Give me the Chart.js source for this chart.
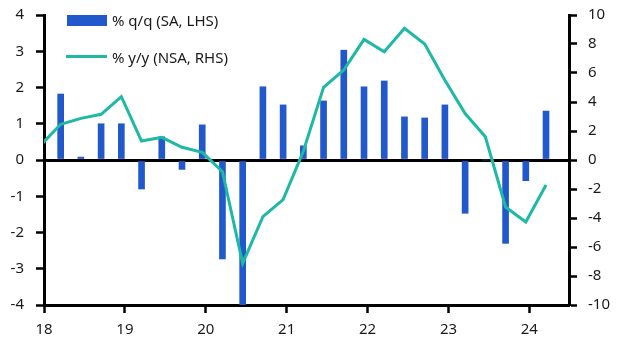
<!DOCTYPE html>
<html>
<head>
<meta charset="utf-8">
<script src="https://cdn.jsdelivr.net/npm/chart.js@4.4.1/dist/chart.umd.min.js"></script>
<style>
  html, body { margin: 0; padding: 0; background: #fff; }
  #wrap { position: relative; width: 626px; height: 352px; }
  #wrap canvas { position: absolute; left: 0; top: 0; }
  .leg-text { position: absolute; left: 112px; font: 15px "Noto Sans", sans-serif; color: #1a1a1a; line-height: 20px; white-space: nowrap; }
  .leg-swatch { position: absolute; }
</style>
</head>
<body>
<div id="wrap">
  <canvas id="chart" width="626" height="352"></canvas>
  <div class="leg-swatch" style="left:67px; top:15px; width:40px; height:11px; background:#2159cc;"></div>
  <div class="leg-text" style="top:10px;">% q/q (SA, LHS)</div>
  <div class="leg-swatch" style="left:66px; top:55px; width:41px; height:3px; background:#1db9a5;"></div>
  <div class="leg-text" style="top:47px;">% y/y (NSA, RHS)</div>
</div>
<script>
// quarters, 2017 Q4 is only there so the y/y line enters from the left edge
const quarterLabels = [
  '2017 Q4',
  '2018 Q1', '2018 Q2', '2018 Q3', '2018 Q4',
  '2019 Q1', '2019 Q2', '2019 Q3', '2019 Q4',
  '2020 Q1', '2020 Q2', '2020 Q3', '2020 Q4',
  '2021 Q1', '2021 Q2', '2021 Q3', '2021 Q4',
  '2022 Q1', '2022 Q2', '2022 Q3', '2022 Q4',
  '2023 Q1', '2023 Q2', '2023 Q3', '2023 Q4',
  '2024 Q1'
];

// % q/q (SA, LHS), 2018 Q1 onwards
const qoqValues = [
  1.82, 0.08, 1.0, 1.0,
  -0.8, 0.64, -0.26, 0.97,
  -2.73, -4.0, 2.02, 1.52,
  0.39, 1.63, 3.03, 2.02,
  2.18, 1.19, 1.16, 1.52,
  -1.47, 0.0, -2.3, -0.57,
  1.35
];

// % y/y (NSA, RHS), 2017 Q4 onwards
const yoyValues = [
  1.0,
  2.46, 2.87, 3.15, 4.37,
  1.31, 1.56, 0.88, 0.53,
  -0.81, -7.13, -3.91, -2.73,
  0.6, 5.01, 6.21, 8.32,
  7.47, 9.08, 8.0, 5.5,
  3.2, 1.6, -3.24, -4.27,
  -1.72
];

const yearTicks = [2018, 2019, 2020, 2021, 2022, 2023, 2024];
const yearLabels = ['18', '19', '20', '21', '22', '23', '24'];
const leftTicks = [-4, -3, -2, -1, 0, 1, 2, 3, 4];
const rightTicks = [-10, -8, -6, -4, -2, 0, 2, 4, 6, 8, 10];

// a quarter's point sits a little before the quarter end
function quarterPos(label) {
  const parts = label.split(' Q');
  return parseInt(parts[0]) + (parseInt(parts[1]) - 1) * 0.25 + 0.206;
}

const barPoints = quarterLabels.slice(1).map((q, i) => ({ x: quarterPos(q), y: qoqValues[i] }));
const linePoints = quarterLabels.map((q, i) => ({ x: quarterPos(q), y: yoyValues[i] }));

const tickFont = { family: '"Noto Sans", sans-serif', size: 15 };
const ink = '#000';

// fixed axis widths, and no extra label padding above/below the plot
function fixWidth(w) {
  return s => { s.width = w; s.paddingTop = 0; s.paddingBottom = 0; };
}

new Chart(document.getElementById('chart'), {
  data: {
    datasets: [
      {
        type: 'line',
        label: '% y/y (NSA, RHS)',
        data: linePoints,
        yAxisID: 'y1',
        borderColor: '#1db9a5',
        borderWidth: 3,
        pointRadius: 0,
        tension: 0,
        clip: 0,
        order: 0
      },
      {
        type: 'bar',
        label: '% q/q (SA, LHS)',
        data: barPoints,
        yAxisID: 'y',
        backgroundColor: '#2159cc',
        barThickness: 6,
        order: 1
      }
    ]
  },
  options: {
    responsive: false,
    animation: false,
    layout: { padding: { top: 15, left: 0, right: 0, bottom: 0 } },
    plugins: { legend: { display: false }, tooltip: { enabled: false } },
    scales: {
      x: {
        type: 'linear',
        position: 'bottom',
        offset: false,
        min: 2018,
        max: 2024.49,
        afterBuildTicks: s => { s.ticks = yearTicks.map(v => ({ value: v })); },
        afterFit: s => { s.height = 47; s.paddingLeft = 0; s.paddingRight = 0; },
        ticks: {
          callback: v => yearLabels[yearTicks.indexOf(v)],
          font: tickFont,
          color: '#1a1a1a',
          padding: 8,
          maxRotation: 0
        },
        grid: { offset: false, drawOnChartArea: false, tickLength: 8, tickColor: ink, tickWidth: 2.5 },
        border: { color: ink, width: 3 }
      },
      y: {
        position: 'left',
        min: -4,
        max: 4,
        afterBuildTicks: s => { s.ticks = leftTicks.map(v => ({ value: v })); },
        afterFit: fixWidth(44),
        ticks: { font: tickFont, color: '#1a1a1a', padding: 12 },
        grid: {
          drawOnChartArea: true,
          color: c => (c.tick && c.tick.value === 0 ? ink : 'rgba(0,0,0,0)'),
          lineWidth: 3,
          tickLength: 8,
          tickColor: ink,
          tickWidth: 2.5
        },
        border: { color: ink, width: 3 }
      },
      y1: {
        position: 'right',
        min: -10,
        max: 10,
        afterBuildTicks: s => { s.ticks = rightTicks.map(v => ({ value: v })); },
        afterFit: fixWidth(57),
        ticks: { font: tickFont, color: '#1a1a1a', padding: 11 },
        grid: { drawOnChartArea: false, tickLength: 8, tickColor: ink, tickWidth: 2.5 },
        border: { color: ink, width: 3 }
      }
    }
  }
});
</script>
</body>
</html>
